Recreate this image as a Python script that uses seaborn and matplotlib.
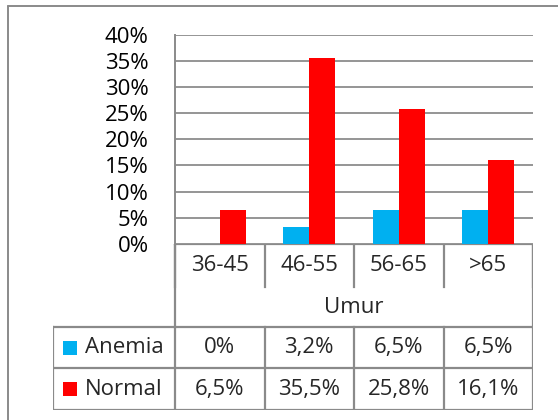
import numpy as np
import pandas as pd
import matplotlib
matplotlib.use("Agg")
import matplotlib.pyplot as plt
from matplotlib.lines import Line2D
from matplotlib.patches import Rectangle
from matplotlib.ticker import FuncFormatter
import seaborn as sns

# data (percent)
categories = ["36-45", "46-55", "56-65", ">65"]
anemia = [0.0, 3.2, 6.5, 6.5]
normal = [6.5, 35.5, 25.8, 16.1]
series_names = ["Anemia", "Normal"]
axis_title = "Umur"

COLORS = {"Anemia": "#00B0F0", "Normal": "#FF0000"}
GRID = "#8C8C8C"
LINE = "#8A8A8A"

sns.set_theme(style="white")
plt.rcParams["font.family"] = ["Open Sans", "DejaVu Sans"]
FS = 16

df = pd.DataFrame({
    "Umur": categories * 2,
    "Kelompok": ["Anemia"] * len(categories) + ["Normal"] * len(categories),
    "Persen": anemia + normal,
})

W, H = 558, 420
fig = plt.figure(figsize=(W / 100, H / 100), dpi=100)

def fx(px):
    return px / W

def fy(py):
    return 1 - py / H

# outer chart border (left + top visible, rest runs off the image)
fig.add_artist(Line2D([fx(8), fx(8)], [fy(6), fy(H + 5)], color=LINE, lw=1.4))
fig.add_artist(Line2D([fx(8), fx(W + 5)], [fy(6), fy(6)], color=LINE, lw=1.4))

# plot area
left_px, right_px, top_px, zero_px = 175, 533, 35, 243.7
ax = fig.add_axes([fx(left_px), fy(zero_px), fx(right_px - left_px), (zero_px - top_px) / H])
sns.barplot(data=df, x="Umur", y="Persen", hue="Kelompok", palette=COLORS,
            width=0.58, saturation=1, linewidth=0, ax=ax, legend=False, zorder=3)
ax.set_ylim(0, 40)
ax.set_xlim(-0.5, len(categories) - 0.5)
ax.set_yticks(np.arange(0, 41, 5))
ax.yaxis.set_major_formatter(FuncFormatter(lambda v, _: f"{v:.0f}%"))
ax.yaxis.grid(True, color=GRID, lw=1.3, zorder=0)
ax.set_axisbelow(True)
ax.tick_params(axis="y", length=0, pad=19, labelsize=FS, colors="black")
ax.set_xticks([])
ax.set_xlabel("")
ax.set_ylabel("")
for s in ["top", "right", "bottom"]:
    ax.spines[s].set_visible(False)
ax.spines["left"].set_color(LINE)
ax.spines["left"].set_linewidth(1.4)

# data table below the plot
n = len(categories)
legend_w = (left_px - 53) / ((right_px - left_px) / n)
tbl_bottom = 410
tax = fig.add_axes([fx(53), fy(tbl_bottom), fx(right_px - 53), (tbl_bottom - zero_px) / H])
tax.set_xlim(-0.5 - legend_w, n - 0.5)
tax.set_ylim(4, 0)
tax.axis("off")
kw = dict(color=LINE, lw=1.6, solid_capstyle="projecting")
x0, x1 = -0.5, n - 0.5
xl = -0.5 - legend_w
row_edges = [0, 1.05, 2.0, 3.0, 4.0]

# category row
tax.plot([x0, x1], [0, 0], **kw)
for i in range(n + 1):
    tax.plot([i - 0.5, i - 0.5], [0, row_edges[1]], **kw)
# Umur row sides
tax.plot([x0, x0], [0, row_edges[2]], **kw)
tax.plot([x1, x1], [0, row_edges[2]], **kw)
# value rows
for r in (2, 3, 4):
    tax.plot([xl, x1], [row_edges[r], row_edges[r]], **kw)
for xv in [xl] + [i - 0.5 for i in range(n + 1)]:
    tax.plot([xv, xv], [row_edges[2], row_edges[4]], **kw)

for i, c in enumerate(categories):
    tax.text(i, (row_edges[0] + row_edges[1]) / 2, c, ha="center", va="center", fontsize=FS)
tax.text((n - 1) / 2, (row_edges[1] + row_edges[2]) / 2, axis_title,
         ha="center", va="center", fontsize=FS)

def fmt(v):
    return "0%" if v == 0 else f"{v:.1f}%".replace(".", ",")

for r, (name, vals) in enumerate(zip(series_names, [anemia, normal])):
    yc = (row_edges[2 + r] + row_edges[3 + r]) / 2
    for i, v in enumerate(vals):
        tax.text(i, yc, fmt(v), ha="center", va="center", fontsize=FS)
    sq_w = 14 / ((right_px - left_px) / n)
    sq_h = 14 / ((tbl_bottom - zero_px) / 4)
    tax.add_patch(Rectangle((xl + 10 / ((right_px - left_px) / n), yc - sq_h / 2), sq_w, sq_h,
                            color=COLORS[name], lw=0))
    tax.text(xl + 32 / ((right_px - left_px) / n), yc, name, ha="left", va="center", fontsize=FS)

fig.savefig("out.png", dpi=100)
